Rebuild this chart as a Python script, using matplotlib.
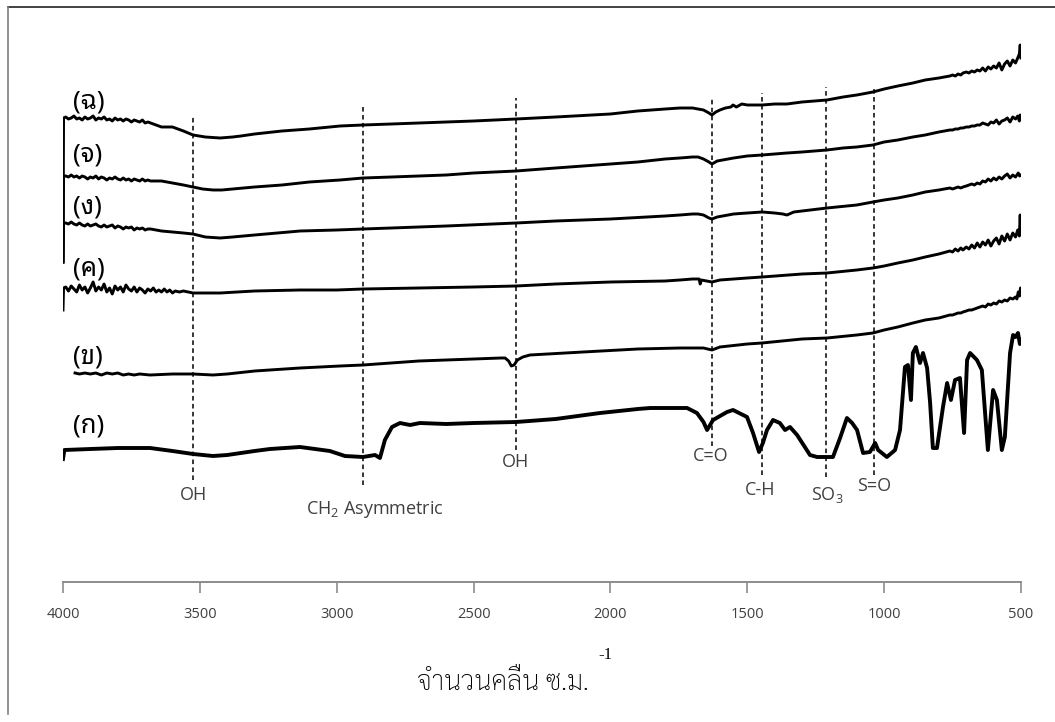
import matplotlib
matplotlib.use("Agg")
import matplotlib.pyplot as plt
from matplotlib.lines import Line2D

plt.rcParams["mathtext.fontset"] = "custom"
plt.rcParams["mathtext.rm"] = "Open Sans"
plt.rcParams["mathtext.default"] = "rm"

# ---- FTIR spectra: (wavenumber cm^-1, transmittance a.u.), stacked with offsets ----
spec_cho = [  # (ฉ)
    (4000, 320), (3998, 464), (3990, 465), (3980, 463), (3970, 464), (3960, 466), (3950, 463),
    (3940, 464), (3930, 462), (3920, 465), (3910, 463), (3900, 464), (3890, 466), (3880, 462),
    (3870, 464), (3860, 463), (3850, 465), (3840, 462), (3830, 463), (3820, 461), (3810, 464),
    (3800, 462), (3790, 463), (3780, 461), (3770, 463), (3760, 462), (3750, 460), (3740, 462),
    (3730, 461), (3720, 460), (3710, 462), (3700, 459), (3690, 460), (3680, 459), (3670, 458),
    (3660, 457), (3650, 456), (3640, 455),
    (3600, 455), (3560, 451), (3525, 447), (3480, 445), (3426, 444), (3380, 445), (3350, 446),
    (3300, 448), (3200, 451), (3100, 453), (2988, 456), (2904, 457), (2800, 458), (2700, 459),
    (2600, 460), (2500, 461), (2345, 463), (2200, 465), (2000, 468), (1900, 471), (1800, 473),
    (1746, 474), (1700, 474), (1680, 473), (1660, 472), (1640, 469), (1629, 467), (1615, 470),
    (1600, 472), (1580, 474), (1560, 475), (1552, 477), (1540, 475), (1520, 478), (1500, 477),
    (1446, 477), (1400, 478), (1355, 478), (1300, 480), (1209, 482), (1150, 485), (1100, 487),
    (1041, 490), (1000, 493), (950, 496), (895, 499), (850, 502), (800, 504),
    (760, 506), (750, 507), (740, 506), (730, 508), (720, 507), (712, 509), (700, 510),
    (690, 509), (680, 511), (670, 510), (660, 512), (650, 511), (640, 514), (630, 511),
    (620, 515), (610, 513), (600, 516), (590, 514), (580, 519), (570, 512), (560, 518),
    (550, 521), (540, 516), (530, 522), (520, 519), (512, 524), (506, 528), (503, 537),
    (501, 527), (500, 524),
]
spec_cho_chan = [  # (จ)
    (4000, 320), (3998, 406), (3990, 406), (3980, 405), (3970, 407), (3960, 405), (3950, 406),
    (3940, 404), (3930, 406), (3920, 405), (3910, 403), (3900, 405), (3890, 404), (3880, 406),
    (3870, 403), (3860, 405), (3850, 404), (3840, 402), (3830, 404), (3820, 403), (3810, 405),
    (3800, 403), (3790, 402), (3780, 404), (3770, 402), (3760, 403), (3750, 401), (3740, 403),
    (3730, 402), (3720, 401), (3710, 403), (3700, 401), (3690, 402), (3680, 401),
    (3640, 401), (3600, 399), (3560, 397),
    (3525, 395), (3490, 393), (3452, 392), (3420, 392), (3380, 393), (3300, 395), (3200, 397),
    (3100, 400), (2988, 402), (2904, 404), (2800, 405), (2700, 406), (2600, 407), (2500, 409),
    (2345, 411), (2200, 414), (2000, 418), (1900, 420), (1800, 423), (1746, 424), (1700, 425),
    (1680, 425), (1660, 423), (1640, 420), (1629, 418), (1610, 421), (1590, 422), (1550, 424),
    (1500, 426), (1446, 427), (1400, 428), (1355, 429), (1300, 430), (1209, 432), (1150, 434),
    (1100, 435), (1041, 437), (1000, 440), (950, 442), (895, 445), (850, 447), (800, 450),
    (760, 452), (750, 452), (740, 453), (730, 453), (720, 454), (712, 454), (700, 455),
    (690, 455), (680, 456), (670, 456), (660, 457), (650, 457), (640, 459), (630, 458),
    (620, 457), (610, 460), (600, 459), (590, 462), (580, 458), (570, 461), (560, 462),
    (550, 464), (540, 460), (530, 465), (520, 463), (512, 466), (506, 461), (503, 467),
    (500, 463),
]
spec_ngo = [  # (ง)
    (4000, 320), (3998, 359), (3990, 359), (3980, 358), (3970, 360), (3960, 358), (3950, 357),
    (3940, 359), (3930, 357), (3920, 356), (3910, 358), (3900, 356), (3890, 357), (3880, 358),
    (3870, 356), (3860, 355), (3850, 357), (3840, 355), (3830, 356), (3820, 357), (3810, 354),
    (3800, 356), (3790, 355), (3780, 353), (3770, 355), (3760, 354), (3750, 355), (3740, 352),
    (3730, 354), (3720, 353), (3710, 354), (3700, 352), (3690, 353), (3680, 353),
    (3640, 351), (3600, 350), (3560, 349),
    (3525, 348), (3480, 345), (3426, 344), (3380, 345), (3300, 347), (3134, 351), (3000, 352),
    (2904, 353), (2800, 354), (2600, 356), (2345, 359), (2200, 361), (2000, 363), (1800, 366),
    (1746, 367), (1700, 368), (1680, 368), (1660, 367), (1640, 364), (1629, 363), (1610, 365),
    (1590, 366), (1550, 368), (1500, 369), (1446, 370), (1400, 369), (1370, 368), (1355, 367),
    (1330, 370), (1300, 371), (1209, 374), (1100, 377), (1041, 380), (1000, 382), (950, 384),
    (895, 387), (850, 390), (800, 392),
    (760, 394), (750, 393), (740, 394), (730, 395), (720, 394), (712, 395), (700, 396),
    (690, 397), (680, 398), (670, 397), (660, 399), (650, 398), (640, 401), (630, 400),
    (620, 403), (610, 401), (600, 404), (590, 402), (580, 405), (570, 403), (560, 406),
    (550, 408), (540, 404), (530, 407), (520, 405), (510, 409), (505, 406), (500, 407),
]
spec_kho_khwai = [  # (ค)
    (4000, 272), (3998, 294), (3990, 295), (3980, 291), (3970, 296), (3960, 293), (3950, 290),
    (3940, 297), (3930, 292), (3920, 295), (3910, 289), (3900, 294), (3890, 300), (3880, 291),
    (3870, 295), (3860, 292), (3850, 298), (3840, 290), (3830, 294), (3820, 288), (3810, 296),
    (3800, 292), (3790, 295), (3780, 290), (3770, 297), (3760, 293), (3750, 291), (3740, 295),
    (3730, 290), (3720, 294), (3710, 292), (3700, 289), (3690, 293), (3680, 291), (3670, 294),
    (3660, 290), (3650, 292), (3640, 290), (3630, 293), (3620, 290), (3610, 292), (3600, 289),
    (3590, 291), (3575, 290), (3560, 291),
    (3525, 289), (3426, 289), (3300, 291), (3134, 292), (3000, 292), (2904, 293),
    (2700, 294), (2500, 295), (2345, 296), (2200, 298), (2000, 300), (1800, 301), (1746, 302),
    (1700, 303), (1676, 303), (1672, 298), (1668, 302), (1629, 300), (1600, 302), (1500, 304),
    (1446, 305), (1300, 308), (1209, 309), (1100, 312), (1041, 314), (1000, 316), (950, 319),
    (895, 322), (850, 325), (800, 328),
    (760, 331), (750, 330), (740, 333), (730, 331), (720, 334), (712, 332), (700, 335),
    (690, 333), (680, 337), (670, 334), (660, 339), (650, 335), (640, 340), (630, 337),
    (620, 342), (610, 336), (600, 341), (590, 344), (580, 338), (570, 346), (560, 341),
    (550, 348), (540, 342), (530, 349), (520, 345), (512, 352), (506, 346), (503, 367),
    (501, 350), (500, 352),
]
spec_kho_khai = [  # (ข)
    (3956, 209), (3940, 208), (3920, 209), (3900, 208), (3880, 209), (3860, 207), (3840, 209),
    (3820, 208), (3800, 209), (3780, 207), (3760, 208), (3740, 207), (3720, 208), (3682, 207),
    (3600, 208), (3525, 208), (3452, 207), (3400, 208), (3300, 211), (3134, 214), (2988, 216),
    (2904, 217), (2700, 221), (2500, 223), (2400, 224), (2385, 224), (2372, 221), (2362, 216),
    (2352, 217), (2340, 222), (2320, 225), (2294, 227), (2100, 230), (1900, 233), (1746, 234),
    (1700, 234), (1660, 234), (1629, 232), (1600, 235), (1500, 238), (1446, 239), (1300, 243),
    (1209, 244), (1100, 247), (1041, 249), (1000, 252), (950, 255), (895, 259), (850, 262),
    (800, 264),
    (760, 267), (750, 267), (740, 268), (730, 269), (720, 269), (712, 270), (700, 271),
    (690, 272), (680, 272), (670, 273), (660, 274), (650, 275), (640, 276), (630, 275),
    (620, 278), (610, 277), (600, 279), (590, 278), (580, 281), (570, 280), (560, 282),
    (550, 281), (540, 284), (530, 283), (520, 285), (515, 283), (510, 290), (505, 286),
    (502, 294), (500, 289),
]
spec_ko_kai = [  # (ก)
    (4000, 123), (3995, 132), (3900, 133), (3800, 134), (3682, 134), (3600, 131), (3525, 128),
    (3452, 126), (3400, 127), (3300, 131), (3244, 133), (3134, 135), (3025, 131), (2970, 126),
    (2904, 125), (2860, 127), (2842, 124), (2824, 142), (2798, 155), (2769, 159), (2732, 157),
    (2696, 159), (2600, 158), (2500, 159), (2345, 160), (2200, 163), (2038, 169), (1900, 173),
    (1855, 174), (1720, 174), (1684, 169), (1660, 160), (1647, 152), (1625, 162), (1574, 170),
    (1552, 172), (1501, 165), (1479, 149), (1457, 130), (1443, 139), (1428, 152), (1406, 162),
    (1381, 159), (1362, 152), (1344, 155), (1318, 147), (1271, 127), (1245, 125), (1187, 125),
    (1161, 144), (1136, 164), (1117, 159), (1099, 152), (1077, 129), (1052, 130), (1033, 139),
    (1022, 132), (990, 125), (960, 132), (942, 152), (924, 215), (913, 217), (902, 182),
    (895, 229), (884, 235), (869, 219), (858, 229), (843, 214), (832, 179), (822, 134),
    (807, 134), (785, 175), (770, 199), (756, 182), (741, 202), (723, 204), (708, 149),
    (697, 222), (686, 229), (661, 222), (643, 212), (621, 132), (602, 192), (588, 182),
    (570, 132), (559, 145), (540, 229), (529, 247), (520, 245), (511, 249), (504, 238),
    (500, 242),
]

series = [spec_cho, spec_cho_chan, spec_ngo, spec_kho_khwai, spec_kho_khai, spec_ko_kai]
series_labels = ["(ฉ)", "(จ)", "(ง)", "(ค)", "(ข)", "(ก)"]
label_anchor = [(3963, 480), (3963, 427), (3963, 375), (3963, 313), (3963, 225), (3963, 156)]
line_widths = [2.1, 2.1, 2.1, 2.1, 2.1, 2.8]

# ---- band assignments ----
band_wn = [3525, 2904, 2345, 1629, 1446, 1212, 1037]
band_top = [467, 477, 484, 484, 489, 495, 495]
band_bottom = [102, 97, 132, 136, 107, 105, 107]
band_text = ["OH", r"CH$_2$ Asymmetric", "OH", "C=O", "C-H", r"SO$_3$", "S=O"]
band_text_x = [3525, 2860, 2345, 1633, 1454, 1209, 1037]
band_text_y = [87, 72, 120, 126, 92, 87, 96]

x_ticks = [4000, 3500, 3000, 2500, 2000, 1500, 1000, 500]
x_title = "จำนวนคลื่น ซ.ม."

fig = plt.figure(figsize=(10.55, 7.22), dpi=100)
ax = fig.add_axes([63 / 1055, 140 / 722, 958 / 1055, 552 / 722])
ax.set_xlim(4000, 500)
ax.set_ylim(0, 552)

for data, lw in zip(series, line_widths):
    wn = [p[0] for p in data]
    tr = [p[1] for p in data]
    ax.plot(wn, tr, color="black", lw=lw, solid_joinstyle="round", zorder=3)

for (x, y), lab in zip(label_anchor, series_labels):
    ax.text(x, y, lab, ha="left", va="center", fontsize=18.5, fontweight="light",
            family=["Noto Sans Thai Looped", "Noto Sans"], color="black")

for wn, top, bot in zip(band_wn, band_top, band_bottom):
    ax.plot([wn, wn], [bot, top], color="black", lw=1.1, ls=(0, (3.0, 2.2)), zorder=2)

for x, y, t in zip(band_text_x, band_text_y, band_text):
    ax.text(x, y, t, ha="center", va="center", fontsize=13,
            family="Open Sans", color="#404040")

for side in ("top", "right", "left"):
    ax.spines[side].set_visible(False)
ax.spines["bottom"].set_color("#8c8c8c")
ax.spines["bottom"].set_linewidth(1.4)
ax.set_yticks([])
ax.set_xticks(x_ticks)
ax.set_xticklabels([str(t) for t in x_ticks], family="Open Sans", fontsize=10.5, color="#404040")
ax.tick_params(axis="x", direction="out", length=8, width=1.2, color="#8c8c8c", pad=10)

fig.text(503 / 1055, 39 / 722, x_title, ha="center", va="center", fontsize=19.5,
         fontweight="light", family=["Sarabun", "DejaVu Sans"], color="black")
fig.text(605 / 1055, 67 / 722, "-1", ha="center", va="center", fontsize=12,
         family="Liberation Serif", color="black")

# outer frame (top and left edges)
fig.add_artist(Line2D([8 / 1055, 1.0], [715 / 722, 715 / 722], transform=fig.transFigure,
                      color="#222222", lw=1.2))
fig.add_artist(Line2D([8 / 1055, 8 / 1055], [8 / 722, 715 / 722], transform=fig.transFigure,
                      color="#808080", lw=1.2))

fig.savefig("out.png", dpi=100)
